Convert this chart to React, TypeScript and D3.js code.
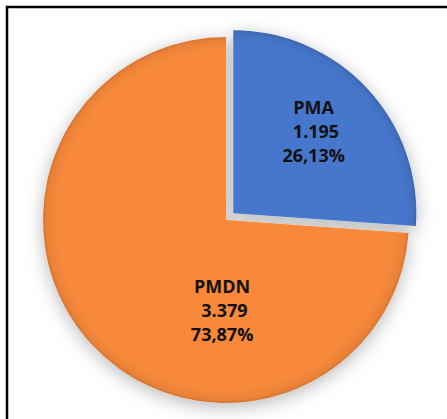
import React, { useRef, useEffect } from 'react';
import * as d3 from 'd3';

// chart data
const categories = ['PMA', 'PMDN'];
const values = [1195, 3379];
const valueLabels = ['1.195', '3.379'];
const percentLabels = ['26,13%', '73,87%'];
const colors = ['#4677CC', '#F8893B'];
const explodeBy = [10, 0];

const W = 447;
const H = 419;

const PieChart = () => {
  const svgRef = useRef<SVGSVGElement | null>(null);

  useEffect(() => {
    document.body.style.margin = '0';
    const cx = 226;
    const cy = 220;
    const r = 183;

    const svg = d3.select(svgRef.current).attr('width', W).attr('height', H);
    svg.selectAll('*').remove();

    const defs = svg.append('defs');
    const shadow = defs.append('filter').attr('id', 'pieShadow')
      .attr('x', '-20%').attr('y', '-20%').attr('width', '140%').attr('height', '140%');
    shadow.append('feDropShadow')
      .attr('dx', 0).attr('dy', 4).attr('stdDeviation', 9)
      .attr('flood-color', '#000').attr('flood-opacity', 0.28);

    // bevel-ish shading: slightly darker rim
    colors.forEach((c, i) => {
      const g = defs.append('radialGradient').attr('id', `shade${i}`)
        .attr('gradientUnits', 'userSpaceOnUse')
        .attr('cx', 0).attr('cy', 0).attr('r', r);
      const base = d3.color(c)!;
      g.append('stop').attr('offset', 0).attr('stop-color', base.formatHex());
      g.append('stop').attr('offset', 0.92).attr('stop-color', base.formatHex());
      g.append('stop').attr('offset', 0.98).attr('stop-color', base.darker(0.15).formatHex());
      g.append('stop').attr('offset', 1).attr('stop-color', base.darker(0.45).formatHex());
    });

    // frame (left and top visible)
    svg.append('rect')
      .attr('x', 7).attr('y', 7)
      .attr('width', W + 20).attr('height', H + 20)
      .attr('fill', '#fff').attr('stroke', '#000').attr('stroke-width', 2.5);

    const pie = d3.pie<number>().sort(null).value(d => d);
    const arcs = pie(values);
    const arc = d3.arc<d3.PieArcDatum<number>>().innerRadius(0).outerRadius(r);
    const labelArc = d3.arc<d3.PieArcDatum<number>>().innerRadius(r * 0.6).outerRadius(r * 0.6);

    const root = svg.append('g').attr('filter', 'url(#pieShadow)');

    const slices = root.selectAll('g.slice')
      .data(arcs)
      .enter()
      .append('g')
      .attr('class', 'slice')
      .attr('transform', (d, i) => {
        const mid = (d.startAngle + d.endAngle) / 2;
        const dx = Math.sin(mid) * explodeBy[i];
        const dy = -Math.cos(mid) * explodeBy[i];
        return `translate(${cx + dx}, ${cy + dy})`;
      });

    slices.append('path')
      .attr('d', arc)
      .attr('fill', (d, i) => `url(#shade${i})`);

    // labels; the large slice label sits lower, near the bottom of the pie
    const labelPos = (d: d3.PieArcDatum<number>) => {
      const share = (d.endAngle - d.startAngle) / (2 * Math.PI);
      if (share > 0.5) {
        const a = Math.PI + 0.04;
        const rr = r * 0.53;
        return [Math.sin(a) * rr, -Math.cos(a) * rr];
      }
      return labelArc.centroid(d);
    };

    const text = svg.append('g')
      .selectAll('text')
      .data(arcs)
      .enter()
      .append('text')
      .attr('transform', (d, i) => {
        const mid = (d.startAngle + d.endAngle) / 2;
        const [lx, ly] = labelPos(d);
        return `translate(${cx + Math.sin(mid) * explodeBy[i] + lx}, ${cy - Math.cos(mid) * explodeBy[i] + ly})`;
      })
      .attr('text-anchor', 'middle')
      .style('font-family', '"Open Sans", sans-serif')
      .style('font-weight', 700)
      .style('font-size', '18px')
      .style('white-space', 'pre')
      .attr('fill', '#111');

    text.append('tspan').attr('x', 0).attr('y', -24).text((d, i) => categories[i]);
    text.append('tspan').attr('x', 0).attr('y', 0).text((d, i) => ' ' + valueLabels[i]);
    text.append('tspan').attr('x', 0).attr('y', 24).text((d, i) => percentLabels[i]);
  }, []);

  return <svg ref={svgRef} style={{ display: 'block' }}></svg>;
};

export default function App() {
  return <PieChart />;
}
